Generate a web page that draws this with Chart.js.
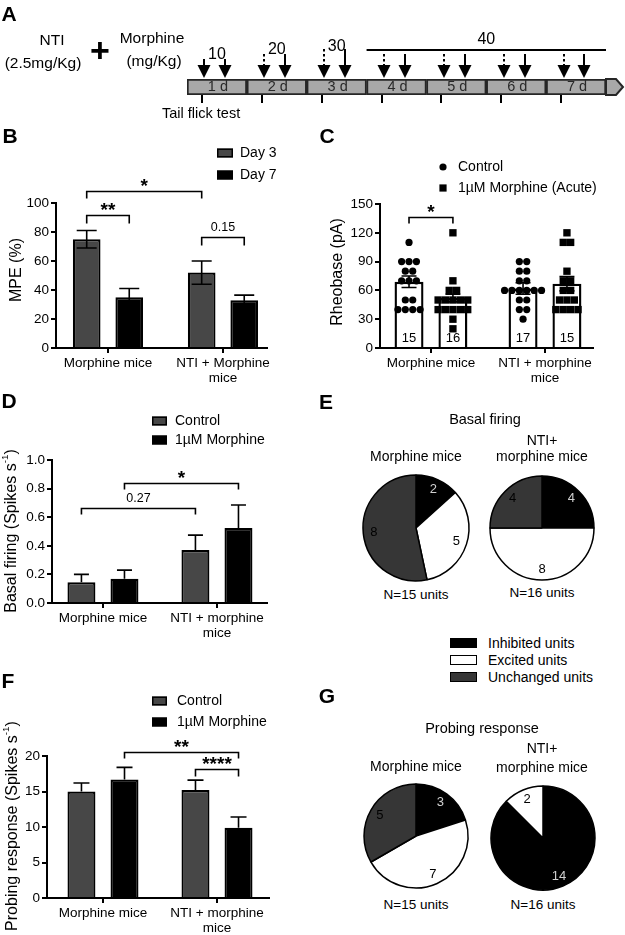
<!DOCTYPE html>
<html><head><meta charset="utf-8">
<script src="https://cdn.jsdelivr.net/npm/chart.js@4.4.1/dist/chart.umd.min.js"></script>
<style>
body{margin:0;background:#fff;}
#fig{position:relative;width:625px;height:935px;overflow:hidden;font-family:'Liberation Sans',Arial,sans-serif;color:#000;background:#fff;}
canvas{position:absolute;}
.t{position:absolute;white-space:nowrap;line-height:1;}
.box{position:absolute;box-sizing:border-box;border:1.5px solid #000;}
</style></head><body><div id="fig"></div>
<script>
// ================= DATA =================
// Panel A (protocol timeline)
const dayLabels = ['1 d','2 d','3 d','4 d','5 d','6 d','7 d'];
const doseLabels = ['10','20','30','40'];
const doseFirstDay = [1,2,3,4];
const doseLastDay = [1,2,3,7];
const ntiArrowDashed = [false,true,true,true,true,true,true];

// Panel B
const bCategories = ['Morphine mice', ['NTI + Morphine','mice']];
const bSeries = ['Day 3','Day 7'];
const bDay3 = [75, 52];
const bDay3Sem = [6, 8];
const bDay7 = [35, 33];
const bDay7Sem = [6, 3.5];

// Panel C
const cCategories = ['Morphine mice', ['NTI + morphine','mice']];
const cSeries = ['Control','1µM Morphine (Acute)'];
const cControl = [69, 62];
const cControlSem = [6, 6];
const cMorphine = [52, 67];
const cMorphineSem = [4, 7.5];
const cControlN = [15, 17];
const cMorphineN = [16, 15];
const cControlPtsMorphineMice = [110,90,90,90,80,80,70,70,70,50,50,40,40,40,40];
const cControlPtsNtiMice = [90,90,80,80,70,70,60,60,60,60,60,60,50,50,40,40,30];
const cMorphinePtsMorphineMice = [120,70,60,60,50,50,50,50,50,40,40,40,40,40,30,20];
const cMorphinePtsNtiMice = [120,110,110,80,70,70,60,60,50,50,50,40,40,40,40];

// Panel D
const dCategories = ['Morphine mice', ['NTI + morphine','mice']];
const dSeries = ['Control','1µM Morphine'];
const dControl = [0.145, 0.37];
const dControlSem = [0.055, 0.105];
const dMorphine = [0.17, 0.525];
const dMorphineSem = [0.06, 0.16];

// Panel F
const fCategories = ['Morphine mice', ['NTI + morphine','mice']];
const fSeries = ['Control','1µM Morphine'];
const fControl = [15, 15.2];
const fControlSem = [1.2, 1.4];
const fMorphine = [16.7, 9.9];
const fMorphineSem = [1.7, 1.5];

// Panels E and G (unit counts)
const unitTypes = ['Inhibited units','Excited units','Unchanged units'];
const eMorphineMice = [2, 5, 8];
const eNtiMice = [4, 8, 4];
const gMorphineMice = [3, 7, 5];
const gNtiMice = [14, 2, 0];

// ================= STYLE / HELPERS =================
const FF = "'Liberation Sans', Arial, sans-serif";
Chart.defaults.font.family = FF;
Chart.defaults.color = '#000';
const GRAY = '#474747';
const PIE_COLORS = ['#000000','#ffffff','#363636'];
const fig = document.getElementById('fig');

function makeCanvas(x,y,w,h){
  const c=document.createElement('canvas');
  c.width=w; c.height=h;
  c.style.left=x+'px'; c.style.top=y+'px'; c.style.width=w+'px'; c.style.height=h+'px';
  fig.appendChild(c); return c;
}
function addText(txt,x,y,size,opt={}){
  const d=document.createElement('div');
  d.className='t'; d.textContent=txt;
  d.style.fontSize=size+'px';
  if(opt.bold) d.style.fontWeight='bold';
  if(opt.color) d.style.color=opt.color;
  d.style.left=x+'px'; d.style.top=y+'px';
  d.style.transform = opt.left ? 'translate(0,-50%)' : 'translate(-50%,-50%)';
  fig.appendChild(d);
}
function addBox(x,y,w,h,fill){
  const b=document.createElement('div'); b.className='box';
  b.style.left=x+'px'; b.style.top=(y-h/2)+'px'; b.style.width=w+'px'; b.style.height=h+'px';
  b.style.background=fill; fig.appendChild(b);
}
function txt(ctx,s,x,y,font,align,base,color){
  ctx.save(); ctx.font=font; ctx.textAlign=align||'center'; ctx.textBaseline=base||'middle';
  ctx.fillStyle=color||'#000'; ctx.fillText(s,x,y); ctx.restore();
}
function yTitle(ctx,parts,cx,cy,size){
  ctx.save(); ctx.translate(cx,cy); ctx.rotate(-Math.PI/2);
  const fonts=parts.map(p=>(p.sup?size*0.62:size)+'px '+FF);
  let total=0;
  const ws=parts.map((p,i)=>{ctx.font=fonts[i]; const w=ctx.measureText(p.t).width; total+=w; return w;});
  let x=-total/2;
  ctx.textBaseline='middle'; ctx.textAlign='left'; ctx.fillStyle='#000';
  parts.forEach((p,i)=>{ctx.font=fonts[i]; ctx.fillText(p.t,x,p.sup?-size*0.42:0); x+=ws[i];});
  ctx.restore();
}

// ================= PANEL A =================
(function(){
  const W=625,H=125;
  const cv=makeCanvas(0,0,W,H);
  const datasets=dayLabels.map((d,i)=>({
    label:d, data:[[i,i+1]], backgroundColor:'#a8a8a8', borderColor:'#262626', borderWidth:2,
    borderSkipped:false, grouped:false, barPercentage:1, categoryPercentage:1
  }));
  const doseLabelY=[55,50,47,40];
  const shaftTop=[59,54,49,54,54,54,54];
  const plug={id:'timeline', afterDatasetsDraw(chart){
    const ctx=chart.ctx, xs=chart.scales.x, a=chart.chartArea;
    const top=a.top, bot=a.bottom, mid=(top+bot)/2;
    const xe=xs.getPixelForValue(xs.max);
    ctx.save();
    ctx.beginPath(); ctx.moveTo(xe,top); ctx.lineTo(xe+10,top); ctx.lineTo(xe+17,mid); ctx.lineTo(xe+10,bot); ctx.lineTo(xe,bot); ctx.closePath();
    ctx.fillStyle='#a8a8a8'; ctx.fill(); ctx.strokeStyle='#262626'; ctx.lineWidth=2; ctx.stroke();
    ctx.restore();
    dayLabels.forEach((d,i)=>txt(ctx,d,xs.getPixelForValue(i+0.5)+1,mid,'14.5px '+FF,'center','middle','#2a2a2a'));
    ctx.save(); ctx.strokeStyle='#000'; ctx.lineWidth=2;
    dayLabels.forEach((d,i)=>{const x=Math.round(xs.getPixelForValue(i+0.25)); ctx.beginPath(); ctx.moveTo(x,bot); ctx.lineTo(x,bot+8); ctx.stroke();});
    ctx.restore();
    const arrow=(x,y0,y1,dashed)=>{
      const hh=13,hw=6.5;
      ctx.save(); ctx.strokeStyle='#000'; ctx.fillStyle='#000'; ctx.lineWidth=2;
      ctx.setLineDash(dashed?[2.5,2.5]:[]);
      ctx.beginPath(); ctx.moveTo(x,y0); ctx.lineTo(x,y1-hh+1); ctx.stroke();
      ctx.setLineDash([]);
      ctx.beginPath(); ctx.moveTo(x-hw,y1-hh); ctx.lineTo(x+hw,y1-hh); ctx.lineTo(x,y1); ctx.closePath(); ctx.fill();
      ctx.restore();
    };
    dayLabels.forEach((d,i)=>{
      arrow(Math.round(xs.getPixelForValue(i+0.29)),shaftTop[i],top-1,ntiArrowDashed[i]);
      arrow(Math.round(xs.getPixelForValue(i+0.64)),shaftTop[i],top-1,false);
    });
    doseLabels.forEach((s,k)=>{
      const x0=xs.getPixelForValue(doseFirstDay[k]-1), x1=xs.getPixelForValue(doseLastDay[k]);
      txt(ctx,s,(x0+x1)/2,doseLabelY[k],'16px '+FF);
      if(doseLastDay[k]>doseFirstDay[k]){
        ctx.save(); ctx.strokeStyle='#000'; ctx.lineWidth=2; ctx.beginPath(); ctx.moveTo(x0,50); ctx.lineTo(x1,50); ctx.stroke(); ctx.restore();
      }
    });
  }};
  new Chart(cv,{type:'bar',data:{labels:['t'],datasets},options:{
    indexAxis:'y', responsive:false, animation:false, events:[],
    layout:{padding:{left:187,right:19,top:79,bottom:30}},
    plugins:{legend:{display:false},tooltip:{enabled:false}},
    scales:{x:{type:'linear',min:0,max:7,display:false},y:{display:false}}
  },plugins:[plug]});
  addText('A',9,13,21,{bold:true});
  addText('NTI',52,40,15.5);
  addText('(2.5mg/Kg)',43,63,15.5);
  addText('+',100,50,34,{bold:true});
  addText('Morphine',152,38,15.5);
  addText('(mg/Kg)',154,61,15.5);
  addText('Tail flick test',162,113,14.5,{left:true});
})();

// ================= BAR PANELS =================
function barPanel(o){
  const cv=makeCanvas(o.x,o.y,o.w,o.h);
  const nS=o.series.length;
  const pxPerUnit=(o.area.r-o.area.l)/(o.xmax-o.xmin);
  const datasets=o.series.map((s,d)=>({
    type:'bar', label:s.label, data:s.values.map((v,i)=>({x:i+1,y:v})),
    backgroundColor:s.fill, borderColor:'#000', borderWidth:o.bw,
    categoryPercentage:o.catPct, barPercentage:o.barPct, order:1
  }));
  o.series.forEach((s,d)=>{
    if(!s.points) return;
    const pts=[];
    const off=((d+0.5)/nS-0.5)*o.catPct;
    s.points.forEach((vals,i)=>{
      const counts={},seen={};
      vals.forEach(v=>counts[v]=(counts[v]||0)+1);
      vals.forEach(v=>{const k=counts[v]; const j=seen[v]||0; seen[v]=j+1;
        pts.push({x:i+1+off+(j-(k-1)/2)*o.dotGap/pxPerUnit,y:v});});
    });
    datasets.push({type:'scatter',data:pts,pointStyle:s.pointStyle,pointRadius:s.pointRadius,
      backgroundColor:'#000',borderColor:'#000',borderWidth:0,order:0});
  });
  const axisGrid={display:true,drawOnChartArea:false,drawTicks:true,tickLength:5,color:'#000',lineWidth:2,offset:false};
  const axisBorder={display:true,color:'#000',width:2};
  const plug={id:'annot',
    afterDatasetsDraw(chart){
      const ctx=chart.ctx, ys=chart.scales.y;
      o.series.forEach((s,d)=>{
        const meta=chart.getDatasetMeta(d);
        meta.data.forEach((el,i)=>{
          const v=s.values[i], e=s.sem[i];
          const yt=ys.getPixelForValue(v+e), yb=o.errBoth?ys.getPixelForValue(v-e):el.y;
          ctx.save(); ctx.strokeStyle='#000'; ctx.lineWidth=1.6;
          ctx.beginPath(); ctx.moveTo(el.x,yb); ctx.lineTo(el.x,yt);
          ctx.moveTo(el.x-o.cap/2,yt); ctx.lineTo(el.x+o.cap/2,yt);
          if(o.errBoth){ctx.moveTo(el.x-o.cap/2,yb); ctx.lineTo(el.x+o.cap/2,yb);}
          ctx.stroke(); ctx.restore();
          if(s.n) txt(ctx,String(s.n[i]),el.x,o.nY-o.y,'13px '+FF);
        });
      });
      o.brackets.forEach(b=>{
        const x1=chart.getDatasetMeta(b.from[0]).data[b.from[1]].x;
        const x2=chart.getDatasetMeta(b.to[0]).data[b.to[1]].x;
        const yy=Math.round(ys.getPixelForValue(b.y))+0.5;
        ctx.save(); ctx.strokeStyle='#000'; ctx.lineWidth=1.6;
        ctx.beginPath(); ctx.moveTo(x1,yy+b.drop); ctx.lineTo(x1,yy); ctx.lineTo(x2,yy); ctx.lineTo(x2,yy+b.drop); ctx.stroke(); ctx.restore();
        if(b.label.indexOf('*')>=0) txt(ctx,b.label,(x1+x2)/2,yy,'bold 19px '+FF,'center','alphabetic');
        else txt(ctx,b.label,(x1+x2)/2,yy-10,'12.5px '+FF,'center','middle');
      });
    },
    afterDraw(chart){
      const ctx=chart.ctx;
      yTitle(ctx,o.yTitle,o.titleX-o.x,o.titleY-o.y,16);
      const L=o.legend;
      L.items.forEach((it,k)=>{
        const cy=L.rows[k]-o.y, bx=L.x-o.x;
        ctx.save(); ctx.fillStyle=it.fill; ctx.strokeStyle='#000'; ctx.lineWidth=1.5;
        if(it.kind==='circle'){ctx.beginPath(); ctx.arc(bx,cy,3.6,0,Math.PI*2); ctx.fill();}
        else if(it.kind==='square'){ctx.fillRect(bx-3.6,cy-3.6,7.2,7.2);}
        else {ctx.fillRect(bx,cy-L.h/2,L.w,L.h); ctx.strokeRect(bx+0.75,cy-L.h/2+0.75,L.w-1.5,L.h-1.5);}
        ctx.restore();
        txt(ctx,it.label,L.textX-o.x,cy,'14px '+FF,'left','middle');
      });
    }
  };
  new Chart(cv,{type:'bar',data:{datasets},options:{
    responsive:false, animation:false, events:[],
    layout:{padding:{left:0,right:o.x+o.w-o.area.r,top:o.area.t-o.y,bottom:0}},
    plugins:{legend:{display:false},tooltip:{enabled:false}},
    scales:{
      x:{type:'linear',min:o.xmin,max:o.xmax,offset:false,
        afterBuildTicks:s=>{s.ticks=o.cats.map((c,i)=>({value:i+1}));},
        afterFit:s=>{s.height=o.y+o.h-o.area.b;},
        ticks:{callback:v=>o.cats[Math.round(v)-1],font:{size:13.5,lineHeight:1.1},color:'#000',padding:3,maxRotation:0,autoSkip:false},
        grid:axisGrid,border:axisBorder},
      y:{type:'linear',min:o.ymin,max:o.ymax,offset:false,
        afterFit:s=>{s.width=o.area.l-o.x;},
        ticks:{stepSize:o.step,callback:o.fmt||(v=>v),font:{size:13.5},color:'#000',padding:2},
        grid:axisGrid,border:axisBorder}
    }
  },plugins:[plug]});
}

// Panel B
barPanel({x:0,y:120,w:320,h:270,area:{l:56,r:267,t:203,b:348},xmin:0.548,xmax:2.383,
  ymin:0,ymax:100,step:20,cats:bCategories,catPct:0.74,barPct:0.65,bw:2.2,errBoth:true,cap:20,
  series:[{label:bSeries[0],values:bDay3,sem:bDay3Sem,fill:GRAY},{label:bSeries[1],values:bDay7,sem:bDay7Sem,fill:'#000'}],
  brackets:[{from:[0,0],to:[1,0],y:92,drop:8,label:'**'},{from:[0,0],to:[0,1],y:108,drop:7,label:'*'},{from:[0,1],to:[1,1],y:76.5,drop:8,label:'0.15'}],
  yTitle:[{t:'MPE (%)'}],titleX:17,titleY:270,
  legend:{x:217,w:16,h:9,textX:240,rows:[153,175],items:[{label:bSeries[0],fill:GRAY},{label:bSeries[1],fill:'#000'}]}
});
// Panel C
barPanel({x:320,y:120,w:305,h:270,area:{l:380,r:593,t:204,b:348},xmin:0.553,xmax:2.421,
  ymin:0,ymax:150,step:30,cats:cCategories,catPct:0.77,barPct:0.66,bw:2.4,errBoth:true,cap:15,dotGap:7.4,nY:338,
  series:[{label:cSeries[0],values:cControl,sem:cControlSem,fill:'#fff',n:cControlN,points:[cControlPtsMorphineMice,cControlPtsNtiMice],pointStyle:'circle',pointRadius:3.6},
          {label:cSeries[1],values:cMorphine,sem:cMorphineSem,fill:'#fff',n:cMorphineN,points:[cMorphinePtsMorphineMice,cMorphinePtsNtiMice],pointStyle:'rect',pointRadius:5.2}],
  brackets:[{from:[0,0],to:[1,0],y:136.5,drop:6,label:'*'}],
  yTitle:[{t:'Rheobase (pA)'}],titleX:338,titleY:272,
  legend:{x:443,w:8,h:8,textX:458,rows:[167,188],items:[{label:cSeries[0],fill:'#000',kind:'circle'},{label:cSeries[1],fill:'#000',kind:'square'}]}
});
// Panel D
barPanel({x:0,y:385,w:320,h:260,area:{l:52,r:267,t:460,b:603},xmin:0.553,xmax:2.439,
  ymin:0,ymax:1,step:0.2,fmt:v=>v.toFixed(1),cats:dCategories,catPct:0.755,barPct:0.65,bw:2.2,errBoth:false,cap:15,
  series:[{label:dSeries[0],values:dControl,sem:dControlSem,fill:GRAY},{label:dSeries[1],values:dMorphine,sem:dMorphineSem,fill:'#000'}],
  brackets:[{from:[0,0],to:[0,1],y:0.664,drop:6,label:'0.27'},{from:[1,0],to:[1,1],y:0.839,drop:6,label:'*'}],
  yTitle:[{t:'Basal firing (Spikes s'},{t:'-1',sup:true},{t:')'}],titleX:12,titleY:531,
  legend:{x:152,w:15,h:9,textX:175,rows:[421,440],items:[{label:dSeries[0],fill:GRAY},{label:dSeries[1],fill:'#000'}]}
});
// Panel F
barPanel({x:0,y:640,w:320,h:295,area:{l:47,r:269,t:756,b:898},xmin:0.509,xmax:2.456,
  ymin:0,ymax:20,step:5,cats:fCategories,catPct:0.755,barPct:0.65,bw:2.2,errBoth:false,cap:16,
  series:[{label:fSeries[0],values:fControl,sem:fControlSem,fill:GRAY},{label:fSeries[1],values:fMorphine,sem:fMorphineSem,fill:'#000'}],
  brackets:[{from:[1,0],to:[1,1],y:20.5,drop:6,label:'**'},{from:[0,1],to:[1,1],y:18.1,drop:7,label:'****'}],
  yTitle:[{t:'Probing response (Spikes s'},{t:'-1',sup:true},{t:')'}],titleX:13,titleY:826,
  legend:{x:152,w:15,h:9,textX:177,rows:[701,722],items:[{label:fSeries[0],fill:GRAY},{label:fSeries[1],fill:'#000'}]}
});

// ================= PIE PANELS =================
const pieLabels={id:'pieLabels',afterDatasetsDraw(chart){
  const ctx=chart.ctx, ds=chart.data.datasets[0], meta=chart.getDatasetMeta(0);
  meta.data.forEach((arc,i)=>{
    const v=ds.data[i]; if(!v) return;
    const p=arc.getProps(['startAngle','endAngle','outerRadius','x','y'],true);
    const a=(p.startAngle+p.endAngle)/2, rr=p.outerRadius*0.8;
    txt(ctx,String(v),p.x+Math.cos(a)*rr,p.y+Math.sin(a)*rr,'13px '+FF,'center','middle',i===0?'#d0d0d0':'#000');
  });
}};
function piePanel(cx,cy,r,values){
  const S=2*Math.round(r+5);
  const cv=makeCanvas(cx-S/2,cy-S/2,S,S);
  new Chart(cv,{type:'pie',data:{labels:unitTypes,datasets:[{data:values,backgroundColor:PIE_COLORS,borderColor:'#000',borderWidth:1.5,radius:r}]},
    options:{responsive:false,animation:false,events:[],layout:{padding:0},plugins:{legend:{display:false},tooltip:{enabled:false}}},
    plugins:[pieLabels]});
}
// E
addText('E',326,401,21,{bold:true});
addText('Basal firing',485,419,14.5);
addText('Morphine mice',416,456,14);
addText('NTI+',542,440,14);
addText('morphine mice',542,456,14);
piePanel(416,528,53,eMorphineMice);
piePanel(542,528,52,eNtiMice);
addText('N=15 units',416,595,13.5);
addText('N=16 units',542,593,13.5);
[643,660,677].forEach((y,k)=>{addBox(450,y,27,10,PIE_COLORS[k]); addText(unitTypes[k],488,y,14,{left:true});});
// G
addText('G',327,695,21,{bold:true});
addText('Probing response',482,728,14.5);
addText('Morphine mice',416,766,14);
addText('NTI+',542,748,14);
addText('morphine mice',542,767,14);
piePanel(416,836,52,gMorphineMice);
piePanel(543,838,52,gNtiMice);
addText('N=15 units',416,905,13.5);
addText('N=16 units',543,905,13.5);
// panel letters
addText('B',10,135,21,{bold:true});
addText('C',327,135,21,{bold:true});
addText('D',9,400,21,{bold:true});
addText('F',8,680,21,{bold:true});
</script></body></html>
